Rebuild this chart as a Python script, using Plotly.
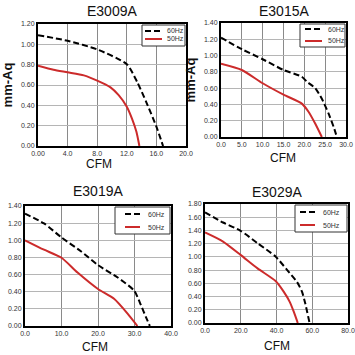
import plotly.graph_objects as go

# ---------------- data ----------------
titles = ["E3009A", "E3015A", "E3019A", "E3029A"]

# E3009A
p1_60_x = [0.0, 4.0, 8.0, 12.0, 13.4, 14.7, 16.0, 16.9]
p1_60_y = [1.09, 1.035, 0.95, 0.805, 0.63, 0.42, 0.19, 0.0]
p1_50_x = [0.0, 2.1, 4.0, 6.2, 8.0, 9.8, 10.9, 12.0, 12.7, 13.3, 13.7]
p1_50_y = [0.79, 0.75, 0.725, 0.695, 0.643, 0.577, 0.50, 0.387, 0.27, 0.14, 0.0]

# E3015A
p2_60_x = [0.0, 5.0, 10.0, 15.0, 19.4, 20.6, 22.6, 24.2, 25.8, 27.2, 27.8]
p2_60_y = [1.22, 1.078, 0.955, 0.823, 0.74, 0.68, 0.60, 0.47, 0.29, 0.10, 0.0]
p2_50_x = [0.0, 5.0, 10.0, 15.0, 19.4, 21.0, 22.6, 24.2]
p2_50_y = [0.90, 0.823, 0.66, 0.52, 0.41, 0.31, 0.165, 0.0]

# E3019A
p3_60_x = [0.0, 5.2, 10.0, 15.3, 20.0, 25.4, 29.9, 31.8, 33.1, 34.2]
p3_60_y = [1.31, 1.197, 1.033, 0.872, 0.71, 0.566, 0.413, 0.24, 0.107, 0.0]
p3_50_x = [0.0, 5.2, 10.0, 14.4, 20.0, 24.4, 28.1, 30.8]
p3_50_y = [1.0, 0.89, 0.796, 0.624, 0.432, 0.318, 0.145, 0.0]

# E3029A
p4_60_x = [0.0, 10.1, 19.9, 29.4, 39.5, 46.0, 51.5, 54.3, 56.1, 58.5]
p4_60_y = [1.673, 1.52, 1.395, 1.207, 1.004, 0.80, 0.62, 0.47, 0.294, 0.0]
p4_50_x = [0.0, 10.1, 19.9, 29.4, 39.5, 44.1, 47.4, 49.7, 51.9]
p4_50_y = [1.369, 1.232, 1.03, 0.826, 0.634, 0.47, 0.32, 0.167, 0.0]

# tick labels
p1_xticks = [0, 4, 8, 12, 16, 20]
p1_xtext = ["0.00", "4.0", "8.0", "12.0", "16.0", "20.0"]
p1_yticks = [0, 0.2, 0.4, 0.6, 0.8, 1.0, 1.2]
p1_ytext = ["0.00", "0.20", "0.40", "0.60", "0.80", "1.00", "1.20"]

p2_xticks = [0, 5, 10, 15, 20, 25, 30]
p2_xtext = ["0.0", "5.0", "10.0", "15.0", "20.0", "25.0", "30.0"]
p2_yticks = [0, 0.2, 0.4, 0.6, 0.8, 1.0, 1.2, 1.4]
p2_ytext = ["0.00", "0.20", "0.40", "0.60", "0.80", "1.00", "1.20", "1.40"]

p3_xticks = [0, 10, 20, 30, 40]
p3_xtext = ["0.0", "10.0", "20.0", "30.0", "40.0"]
p3_yticks = [0, 0.2, 0.4, 0.6, 0.8, 1.0, 1.2, 1.4]
p3_ytext = ["0.00", "0.20", "0.40", "0.60", "0.80", "1.00", "1.20", "1.40"]

p4_xticks = [0, 20, 40, 60, 80]
p4_xtext = ["0.0", "20.0", "40.0", "60.0", "80.0"]
p4_yticks = [0, 0.2, 0.4, 0.6, 0.8, 1.0, 1.2, 1.4, 1.6, 1.8]
p4_ytext = ["0.00", "0.20", "0.40", "0.60", "0.80", "1.00", "1.20", "1.40", "1.60", "1.80"]

series_names = ["60Hz", "50Hz"]
x_title = "CFM"
y_title = "mm-Aq"

# ---------------- layout helpers ----------------
W = H = 355
FONT = "Liberation Sans, Arial, sans-serif"
RED = "#cc2b2b"
DASH = "6px,3px"

def px_x(a):
    return a / W

def px_y(a):
    return 1 - a / H

# box = plot area (left, right, top, bottom) in px; leg = legend box (l, r, t, b);
# lx = legend sample line x-range, tx = legend text left, ly = the two row centres;
# tt = top of the title text box; cfm = centre of the x-axis title
panels = [
    dict(data=[(p1_60_x, p1_60_y), (p1_50_x, p1_50_y)], xr=[0, 20], yr=[0, 1.2],
         xt=(p1_xticks, p1_xtext), yt=(p1_yticks, p1_ytext),
         box=(38, 186, 24, 146), ylabel=True, ystand=5, cfm=(99, 164),
         leg=(142, 185, 25, 46), lx=(145, 162), tx=165, ly=(31, 39), tt=1),
    dict(data=[(p2_60_x, p2_60_y), (p2_50_x, p2_50_y)], xr=[0, 30], yr=[0, 1.4],
         xt=(p2_xticks, p2_xtext), yt=(p2_yticks, p2_ytext),
         box=(221, 346, 23, 137), ylabel=True, ystand=5, cfm=(283, 158),
         leg=(300, 345, 24, 47), lx=(305, 322), tx=326, ly=(29, 41), tt=1),
    dict(data=[(p3_60_x, p3_60_y), (p3_50_x, p3_50_y)], xr=[0, 40], yr=[0, 1.4],
         xt=(p3_xticks, p3_xtext), yt=(p3_yticks, p3_ytext),
         box=(25, 171, 206, 326), ylabel=False, ystand=4, cfm=(95, 347),
         leg=(115, 170, 207, 234), lx=(125, 140), tx=146, ly=(214, 227), tt=181),
    dict(data=[(p4_60_x, p4_60_y), (p4_50_x, p4_50_y)], xr=[0, 80], yr=[0, 1.8],
         xt=(p4_xticks, p4_xtext), yt=(p4_yticks, p4_ytext),
         box=(205, 348, 204, 323), ylabel=False, ystand=4, cfm=(277, 346),
         leg=(295, 347, 205, 232), lx=(300, 315), tx=321, ly=(212, 225), tt=182),
]

fig = go.Figure()
layout = dict(
    width=W, height=H, margin=dict(l=0, r=0, t=0, b=0, autoexpand=False),
    paper_bgcolor="white", plot_bgcolor="white",
    font=dict(family=FONT, color="#222"),
    showlegend=False,
)
annotations = []
shapes = []

for i, p in enumerate(panels):
    n = i + 1
    xa = "x" if n == 1 else f"x{n}"
    ya = "y" if n == 1 else f"y{n}"
    (x0, x1, y0, y1) = p["box"]
    styles = [dict(color="black", width=2, dash=DASH), dict(color=RED, width=2)]
    for k, (xs, ys) in enumerate(p["data"]):
        fig.add_trace(go.Scatter(x=xs, y=ys, mode="lines",
                                 line=dict(**styles[k], shape="spline", smoothing=0.6),
                                 name=series_names[k], xaxis=xa, yaxis=ya))
    axkey_x = "xaxis" if n == 1 else f"xaxis{n}"
    axkey_y = "yaxis" if n == 1 else f"yaxis{n}"
    layout[axkey_x] = dict(
        domain=[px_x(x0), px_x(x1)], anchor=ya, range=p["xr"], automargin=False,
        tickvals=p["xt"][0], ticktext=p["xt"][1], ticks="",
        tickfont=dict(size=7, color="#333"),
        showgrid=True, gridcolor="#8a8a8a", gridwidth=1,
        showline=True, linecolor="black", linewidth=2, mirror=True,
        zeroline=False,
    )
    layout[axkey_y] = dict(
        domain=[px_y(y1), px_y(y0)], anchor=xa, range=p["yr"], automargin=False,
        tickvals=p["yt"][0], ticktext=p["yt"][1], ticks="",
        tickfont=dict(size=7, color="#333"),
        showgrid=True, gridcolor="#b5b5b5", gridwidth=1,
        showline=True, linecolor="black", linewidth=2, mirror=True,
        zeroline=False,
    )
    if p["ylabel"]:
        layout[axkey_y]["title"] = dict(text=f"<b>{y_title}</b>", font=dict(size=13, color="#111"),
                                        standoff=p["ystand"])
    # x-axis title
    annotations.append(dict(text=x_title, x=px_x(p["cfm"][0]), y=px_y(p["cfm"][1]),
                            xref="paper", yref="paper", showarrow=False,
                            xanchor="center", yanchor="middle",
                            font=dict(size=12, color="#111")))
    # legend box
    lb = p["leg"]
    shapes.append(dict(type="rect", xref="paper", yref="paper",
                       x0=px_x(lb[0]), x1=px_x(lb[1]), y0=px_y(lb[3]), y1=px_y(lb[2]),
                       line=dict(color="#333", width=1), fillcolor="white", layer="above"))
    for k in range(2):
        st = styles[k]
        shapes.append(dict(type="line", xref="paper", yref="paper",
                           x0=px_x(p["lx"][0]), x1=px_x(p["lx"][1]),
                           y0=px_y(p["ly"][k]), y1=px_y(p["ly"][k]),
                           line=dict(color=st["color"], width=2, dash=st.get("dash", "solid")),
                           layer="above"))
        annotations.append(dict(text=series_names[k], x=px_x(p["tx"]), y=px_y(p["ly"][k]),
                                xref="paper", yref="paper", showarrow=False,
                                xanchor="left", yanchor="middle",
                                font=dict(size=7, color="#333")))
    annotations.append(dict(
        text=titles[i], x=(px_x(x0) + px_x(x1)) / 2, y=px_y(p["tt"]),
        xref="paper", yref="paper", showarrow=False,
        font=dict(size=14, color="#111"), xanchor="center", yanchor="top",
    ))

layout["annotations"] = annotations
layout["shapes"] = shapes
fig.update_layout(**layout)
fig.write_html("out.html", config={"displayModeBar": False},
               post_script="document.body.style.margin='0px';document.body.style.overflow='hidden';")
